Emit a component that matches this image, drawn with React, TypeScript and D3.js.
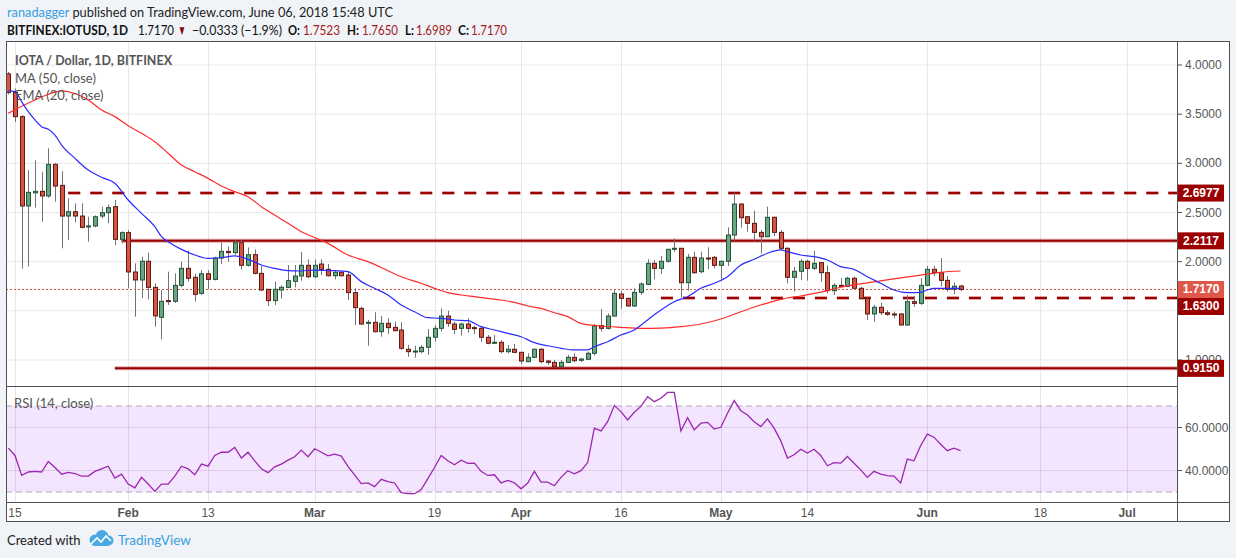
import React from 'react';
import * as d3 from 'd3';

// IOTUSD daily candles, Jan 14 - Jun 6 2018
const firstDay = '2018-01-14';
const lastDay = '2018-06-06';

const opens = [
  3.91, 3.72, 3.475, 2.566, 2.70, 2.715, 2.668, 2.99, 2.776, 2.464,
  2.508, 2.464, 2.356, 2.363, 2.464, 2.498, 2.559, 2.227, 2.295, 1.895,
  1.814, 2.004, 1.739, 1.434, 1.604, 1.597, 1.759, 1.932, 1.841, 1.678,
  1.877, 1.82, 2.037, 2.105, 2.092, 2.193, 1.963, 2.071, 1.881, 1.719,
  1.604, 1.712, 1.739, 1.80, 1.854, 1.963, 1.847, 1.976, 1.922, 1.857,
  1.892, 1.864, 1.685, 1.525, 1.373, 1.383, 1.288, 1.373, 1.332, 1.305,
  1.109, 1.085, 1.085, 1.129, 1.231, 1.322, 1.447, 1.366, 1.322, 1.366,
  1.329, 1.322, 1.231, 1.173, 1.18, 1.085, 1.109, 1.078, 0.983, 1.027,
  1.109, 0.99, 0.976, 0.932, 0.976, 1.027, 0.997, 1.007, 1.068, 1.349,
  1.322, 1.447, 1.671, 1.627, 1.549, 1.688, 1.769, 1.983, 1.932, 2.004,
  2.126, 2.136, 1.786, 2.044, 1.898, 2.037, 2.044, 1.963, 2.004, 2.271,
  2.586, 2.457, 2.39, 2.298, 2.254, 2.451, 2.298, 2.136, 1.841, 1.902,
  2.004, 1.932, 1.99, 1.888, 1.705, 1.759, 1.749, 1.831, 1.729, 1.627,
  1.468, 1.536, 1.481, 1.468, 1.468, 1.356, 1.593, 1.576, 1.759, 1.922,
  1.888, 1.81, 1.719, 1.7523
];
const highs = [
  3.93, 3.76, 3.49, 2.93, 3.03, 2.915, 3.153, 3.0, 2.92, 2.644,
  2.593, 2.593, 2.457, 2.47, 2.559, 2.58, 2.627, 2.31, 2.322, 1.983,
  2.05, 2.092, 1.78, 1.712, 1.898, 1.88, 2.0, 2.112, 1.877, 1.915,
  1.915, 2.05, 2.193, 2.152, 2.22, 2.22, 2.145, 2.125, 1.956, 1.722,
  1.797, 1.76, 1.966, 1.966, 2.098, 2.024, 2.024, 2.024, 1.976, 1.915,
  1.90, 1.898, 1.729, 1.542, 1.407, 1.485, 1.447, 1.424, 1.39, 1.383,
  1.153, 1.145, 1.153, 1.315, 1.356, 1.525, 1.501, 1.39, 1.38, 1.424,
  1.35, 1.339, 1.254, 1.254, 1.203, 1.153, 1.163, 1.085, 1.068, 1.115,
  1.12, 1.0, 1.0, 1.0, 1.051, 1.068, 1.02, 1.085, 1.366, 1.519,
  1.474, 1.712, 1.705, 1.633, 1.729, 1.79, 2.024, 2.017, 2.058, 2.126,
  2.238, 2.14, 2.078, 2.102, 2.102, 2.146, 2.058, 2.01, 2.349, 2.701,
  2.593, 2.46, 2.519, 2.322, 2.559, 2.46, 2.322, 2.146, 1.949, 2.024,
  2.017, 2.112, 1.99, 1.963, 1.78, 1.831, 1.847, 1.847, 1.746, 1.644,
  1.56, 1.583, 1.508, 1.491, 1.475, 1.661, 1.651, 1.831, 1.956, 1.956,
  2.034, 1.854, 1.79, 1.765
];
const lows = [
  3.70, 3.42, 1.93, 1.95, 2.55, 2.406, 2.65, 2.61, 2.136, 2.22,
  2.40, 2.34, 2.203, 2.35, 2.44, 2.39, 2.169, 2.186, 1.729, 1.44,
  1.627, 1.617, 1.339, 1.21, 1.56, 1.58, 1.74, 1.80, 1.594, 1.66,
  1.719, 1.81, 1.976, 2.0, 2.07, 1.92, 1.95, 1.87, 1.70, 1.549,
  1.559, 1.624, 1.73, 1.739, 1.807, 1.83, 1.83, 1.864, 1.85, 1.82,
  1.85, 1.61, 1.356, 1.356, 1.145, 1.28, 1.237, 1.264, 1.29, 1.102,
  1.033, 1.023, 1.068, 1.051, 1.186, 1.29, 1.339, 1.264, 1.247, 1.278,
  1.264, 1.186, 1.16, 1.165, 1.068, 1.068, 1.07, 0.956, 0.98, 1.02,
  0.966, 0.95, 0.925, 0.925, 0.97, 0.976, 0.98, 1.0, 1.044, 1.29,
  1.31, 1.44, 1.519, 1.542, 1.54, 1.661, 1.76, 1.82, 1.875, 1.99,
  2.1, 1.638, 1.705, 1.875, 1.88, 1.925, 1.932, 1.82, 1.956, 2.213,
  2.346, 2.305, 2.213, 2.085, 2.25, 2.261, 2.12, 1.78, 1.695, 1.813,
  1.807, 1.915, 1.797, 1.678, 1.661, 1.74, 1.74, 1.72, 1.62, 1.407,
  1.39, 1.458, 1.45, 1.424, 1.35, 1.346, 1.54, 1.56, 1.75, 1.854,
  1.746, 1.695, 1.671, 1.6989
];
const closes = [
  3.72, 3.475, 2.566, 2.705, 2.715, 2.668, 2.99, 2.769, 2.464, 2.508,
  2.464, 2.349, 2.363, 2.457, 2.498, 2.549, 2.227, 2.295, 1.895, 1.814,
  2.004, 1.739, 1.448, 1.597, 1.597, 1.759, 1.932, 1.831, 1.668, 1.877,
  1.82, 2.037, 2.105, 2.092, 2.193, 1.963, 2.071, 1.881, 1.712, 1.604,
  1.719, 1.739, 1.807, 1.854, 1.963, 1.847, 1.963, 1.922, 1.857, 1.892,
  1.857, 1.685, 1.532, 1.366, 1.383, 1.288, 1.373, 1.329, 1.298, 1.119,
  1.085, 1.091, 1.129, 1.231, 1.322, 1.447, 1.373, 1.312, 1.366, 1.322,
  1.322, 1.231, 1.17, 1.18, 1.085, 1.109, 1.078, 0.99, 1.027, 1.109,
  0.983, 0.976, 0.932, 0.976, 1.027, 0.993, 1.01, 1.068, 1.346, 1.322,
  1.447, 1.678, 1.627, 1.549, 1.688, 1.773, 1.983, 1.932, 2.004, 2.126,
  2.136, 1.786, 2.044, 1.888, 2.037, 2.031, 1.963, 2.004, 2.271, 2.586,
  2.447, 2.39, 2.298, 2.254, 2.451, 2.298, 2.136, 1.841, 1.902, 2.004,
  1.932, 1.983, 1.888, 1.705, 1.759, 1.749, 1.831, 1.729, 1.627, 1.468,
  1.536, 1.481, 1.464, 1.461, 1.356, 1.593, 1.576, 1.759, 1.922, 1.888,
  1.81, 1.719, 1.7503, 1.717
];

// RSI (14, close), one value per candle
const rsiValues = [
  50.4, 47.0, 37.7, 39.3, 39.6, 39.3, 44.2, 41.4, 38.3, 39.1,
  38.6, 37.4, 37.4, 39.6, 40.8, 42.0, 36.5, 38.3, 33.7, 31.9,
  36.8, 33.7, 30.3, 33.7, 33.7, 37.4, 42.0, 40.8, 38.0, 43.0,
  42.0, 47.0, 48.5, 48.5, 50.7, 45.8, 48.5, 44.5, 40.8, 39.0,
  41.7, 43.0, 44.8, 46.4, 49.5, 46.4, 50.1, 48.5, 46.8, 47.6,
  46.7, 41.9, 38.0, 33.9, 34.2, 32.5, 35.9, 34.8, 34.2, 29.7,
  29.2, 29.2, 31.1, 36.2, 41.4, 47.0, 44.5, 42.7, 44.8, 43.3,
  43.4, 39.6, 37.7, 38.0, 34.2, 35.4, 34.3, 31.5, 34.2, 39.6,
  34.6, 34.6, 32.9, 36.8, 39.9, 38.5, 39.9, 43.7, 59.7, 58.4,
  62.7, 70.2, 67.4, 63.5, 67.1, 69.8, 74.3, 72.0, 73.6, 76.3,
  76.3, 58.4, 64.6, 58.9, 62.0, 62.4, 59.3, 60.1, 66.6, 72.5,
  67.8, 65.8, 62.7, 60.4, 64.0, 59.7, 53.8, 45.8, 47.3, 49.9,
  48.1, 49.9, 47.0, 42.2, 43.7, 43.4, 46.5, 43.4, 40.3, 36.8,
  39.6, 38.3, 37.6, 37.4, 34.2, 45.3, 44.5, 51.5, 56.9, 55.5,
  52.2, 49.2, 50.4, 49.2
];

// MA (50, close) read at sample dates
const ma50Points: [string, number][] = [
  ['2018-01-14', 3.51], ['2018-01-16', 3.58], ['2018-01-18', 3.644], ['2018-01-20', 3.702],
  ['2018-01-22', 3.736], ['2018-01-24', 3.71], ['2018-01-26', 3.644], ['2018-01-28', 3.542],
  ['2018-01-30', 3.475], ['2018-02-01', 3.383], ['2018-02-03', 3.305], ['2018-02-05', 3.22],
  ['2018-02-07', 3.102], ['2018-02-09', 2.983], ['2018-02-11', 2.915], ['2018-02-13', 2.847],
  ['2018-02-15', 2.769], ['2018-02-17', 2.712], ['2018-02-19', 2.661], ['2018-02-21', 2.559],
  ['2018-02-23', 2.474], ['2018-02-25', 2.39], ['2018-02-27', 2.305], ['2018-03-01', 2.245],
  ['2018-03-03', 2.186], ['2018-03-06', 2.068], ['2018-03-09', 2.0], ['2018-03-12', 1.908],
  ['2018-03-14', 1.847], ['2018-03-17', 1.78], ['2018-03-19', 1.729], ['2018-03-21', 1.685],
  ['2018-03-23', 1.661], ['2018-03-25', 1.644], ['2018-03-27', 1.627], ['2018-03-29', 1.61],
  ['2018-03-31', 1.586], ['2018-04-02', 1.549], ['2018-04-04', 1.525], ['2018-04-06', 1.481],
  ['2018-04-08', 1.441], ['2018-04-10', 1.373], ['2018-04-13', 1.346], ['2018-04-16', 1.332],
  ['2018-04-19', 1.322], ['2018-04-22', 1.325], ['2018-04-25', 1.339], ['2018-04-28', 1.366],
  ['2018-05-01', 1.417], ['2018-05-04', 1.491], ['2018-05-07', 1.559], ['2018-05-10', 1.617],
  ['2018-05-13', 1.651], ['2018-05-16', 1.69], ['2018-05-19', 1.74], ['2018-05-22', 1.775],
  ['2018-05-25', 1.805], ['2018-05-28', 1.835], ['2018-05-31', 1.864], ['2018-06-03', 1.892],
  ['2018-06-06', 1.905]
];

// EMA (20, close) read at sample dates
const ema20Points: [string, number][] = [
  ['2018-01-14', 3.739], ['2018-01-15', 3.729], ['2018-01-16', 3.627], ['2018-01-17', 3.525],
  ['2018-01-18', 3.441], ['2018-01-19', 3.373], ['2018-01-20', 3.346], ['2018-01-21', 3.288],
  ['2018-01-22', 3.186], ['2018-01-24', 3.051], ['2018-01-26', 2.932], ['2018-01-28', 2.858],
  ['2018-01-30', 2.797], ['2018-02-01', 2.627], ['2018-02-03', 2.491], ['2018-02-05', 2.356],
  ['2018-02-06', 2.254], ['2018-02-07', 2.203], ['2018-02-09', 2.125], ['2018-02-11', 2.068],
  ['2018-02-13', 2.034], ['2018-02-15', 2.04], ['2018-02-17', 2.058], ['2018-02-19', 2.024],
  ['2018-02-21', 1.966], ['2018-02-23', 1.932], ['2018-02-25', 1.908], ['2018-02-27', 1.905],
  ['2018-03-01', 1.915], ['2018-03-04', 1.908], ['2018-03-06', 1.898], ['2018-03-08', 1.797],
  ['2018-03-10', 1.729], ['2018-03-12', 1.661], ['2018-03-14', 1.559], ['2018-03-16', 1.491],
  ['2018-03-18', 1.43], ['2018-03-20', 1.424], ['2018-03-22', 1.407], ['2018-03-24', 1.40],
  ['2018-03-26', 1.339], ['2018-03-28', 1.305], ['2018-03-30', 1.271], ['2018-04-01', 1.237],
  ['2018-04-03', 1.176], ['2018-04-05', 1.145], ['2018-04-07', 1.119], ['2018-04-09', 1.102],
  ['2018-04-11', 1.102], ['2018-04-12', 1.135], ['2018-04-14', 1.186], ['2018-04-16', 1.254],
  ['2018-04-18', 1.305], ['2018-04-20', 1.407], ['2018-04-22', 1.508], ['2018-04-24', 1.593],
  ['2018-04-26', 1.644], ['2018-04-28', 1.729], ['2018-04-30', 1.78], ['2018-05-02', 1.847],
  ['2018-05-04', 1.966], ['2018-05-06', 2.024], ['2018-05-08', 2.085], ['2018-05-10', 2.119],
  ['2018-05-11', 2.102], ['2018-05-13', 2.068], ['2018-05-15', 2.051], ['2018-05-17', 2.017],
  ['2018-05-19', 1.949], ['2018-05-21', 1.922], ['2018-05-23', 1.847], ['2018-05-25', 1.78],
  ['2018-05-27', 1.712], ['2018-05-29', 1.685], ['2018-05-31', 1.688], ['2018-06-01', 1.712],
  ['2018-06-02', 1.729], ['2018-06-04', 1.729], ['2018-06-06', 1.729]
];

// horizontal support / resistance levels drawn by the author
const levelValues = [2.6977, 2.2117, 1.63, 0.915];
const levelStarts = ['2018-01-23', '2018-01-31', '2018-04-22', '2018-01-30'];
const levelDashed = [true, false, true, false];

const priceTicks = [1, 1.5, 2, 2.5, 3, 3.5, 4];
const rsiTicks = [40, 60];
const rsiBands = [70, 30];
const dateTicks = [
  '2018-01-15', '2018-02-01', '2018-02-13', '2018-03-01', '2018-03-19', '2018-04-01',
  '2018-04-16', '2018-05-01', '2018-05-14', '2018-06-01', '2018-06-18', '2018-07-01'
];

// symbol status line: [text, x, width, weight, colour]
const statusParts: [string, number, number, string, string][] = [
  ['BITFINEX:IOTUSD, 1D', 7, 121, 'bold', '#111'],
  ['1.7170', 138, 36, 'normal', '#111'],
  ['▼', 178, 8, 'normal', '#8b0000'],
  ['−0.0333 (−1.9%)', 192, 90, 'normal', '#111'],
  ['O:', 288, 12, 'bold', '#111'],
  ['1.7523', 303, 37, 'normal', '#a31b1b'],
  ['H:', 347, 12, 'bold', '#111'],
  ['1.7650', 362, 36, 'normal', '#a31b1b'],
  ['L:', 405, 9, 'bold', '#111'],
  ['1.6989', 416, 36, 'normal', '#a31b1b'],
  ['C:', 458, 11, 'bold', '#111'],
  ['1.7170', 471, 36, 'normal', '#a31b1b']
];

const parseDay = d3.timeParse('%Y-%m-%d');
const parseTime = d3.timeParse('%Y-%m-%d %H:%M');

const W = 1236;
const H = 558;
const left = 6;
const plotRight = 1177;
const frameRight = 1230;
const mainTop = 41;
const mainBottom = 386;
const rsiBottom = 502;
const frameBottom = 522;

const axisFont = '"Liberation Sans", Arial, sans-serif';
const uiFont = 'Lato, "Open Sans", sans-serif';

const upFill = '#6ba583';
const upStroke = '#225437';
const downFill = '#d75442';
const downStroke = '#5b1a13';
const levelColor = '#9b0000';

export default function App() {
  const days = d3.timeDay.range(parseDay(firstDay)!, d3.timeDay.offset(parseDay(lastDay)!, 1));
  const x = d3
    .scaleTime()
    .domain([parseTime('2018-01-13 15:36')!, parseTime('2018-07-08 12:00')!])
    .range([left, plotRight]);
  const y = d3.scaleLinear().domain([1, 4]).range([360, 65]);
  const yRsi = d3.scaleLinear().domain([30, 70]).range([492, 406]);

  const dayPx = x(days[1]) - x(days[0]);
  const bodyW = dayPx * 0.6;

  const lineFor = d3
    .line<[string, number]>()
    .x(d => x(parseDay(d[0])!))
    .y(d => y(d[1]))
    .curve(d3.curveMonotoneX);

  const rsiLine = d3
    .line<number>()
    .x((d, i) => x(days[i]))
    .y(d => yRsi(d));

  const lastClose = closes[closes.length - 1];

  // axis labels for the levels + last price, pushed apart when they collide
  const boxH = 17;
  const tags = [
    ...levelValues.map(v => ({ value: v, color: levelColor })),
    { value: lastClose, color: '#e0584a' }
  ]
    .map(t => ({ ...t, cy: y(t.value) }))
    .sort((a, b) => a.cy - b.cy);
  for (let i = 1; i < tags.length; i++) {
    if (tags[i].cy < tags[i - 1].cy + boxH) tags[i].cy = tags[i - 1].cy + boxH;
  }

  const fmtDay = d3.timeFormat('%-d');
  const fmtMonth = d3.timeFormat('%b');

  return (
    <svg
      width={W}
      height={H}
      style={{ position: 'absolute', left: 0, top: 0, display: 'block' }}
    >
      <defs>
        <clipPath id="mainClip">
          <rect x={left} y={mainTop} width={plotRight - left} height={mainBottom - mainTop} />
        </clipPath>
        <clipPath id="rsiClip">
          <rect x={left} y={mainBottom} width={plotRight - left} height={rsiBottom - mainBottom} />
        </clipPath>
      </defs>

      <rect x={0} y={0} width={W} height={H} fill="#f0f3f7" />

      {/* header */}
      <text
        x={7}
        y={17}
        fontFamily={uiFont}
        fontSize={14}
        fill="#222"
        textLength={386}
        lengthAdjust="spacingAndGlyphs"
      >
        <tspan fill="#3a9fe0">ranadagger</tspan>
        <tspan> published on TradingView.com, June 06, 2018 15:48 UTC</tspan>
      </text>
      <g fontFamily={uiFont} fontSize={13.5}>
        {statusParts.map(([t, px, w, weight, color]) => (
          <text
            key={'st' + px}
            x={px}
            y={35}
            fill={color}
            fontWeight={weight}
            textLength={w}
            lengthAdjust="spacingAndGlyphs"
          >
            {t}
          </text>
        ))}
      </g>

      {/* chart frame */}
      <rect x={left} y={mainTop} width={frameRight - left} height={frameBottom - mainTop} fill="#fff" />

      {/* RSI band */}
      <rect
        x={left}
        y={yRsi(rsiBands[0])}
        width={plotRight - left}
        height={yRsi(rsiBands[1]) - yRsi(rsiBands[0])}
        fill="#f3e5fd"
      />

      {/* grid */}
      {priceTicks.map(t => (
        <line key={'gy' + t} x1={left} x2={plotRight} y1={y(t)} y2={y(t)} stroke="#e8e8e8" />
      ))}
      {rsiTicks.map(t => (
        <line key={'gr' + t} x1={left} x2={plotRight} y1={yRsi(t)} y2={yRsi(t)} stroke="#ddcbe8" />
      ))}
      {dateTicks.map(s => {
        const xx = Math.round(x(parseDay(s)!)) + 0.5;
        return (
          <g key={'gx' + s}>
            <line x1={xx} x2={xx} y1={mainTop} y2={mainBottom} stroke="#e8e8e8" />
            <line x1={xx} x2={xx} y1={mainBottom} y2={rsiBottom} stroke="rgba(120,80,150,0.16)" />
          </g>
        );
      })}
      {rsiBands.map(b => (
        <line
          key={'band' + b}
          x1={left}
          x2={plotRight}
          y1={yRsi(b)}
          y2={yRsi(b)}
          stroke="#b4a6bc"
          strokeDasharray="6,4"
        />
      ))}

      {/* main pane */}
      <g clipPath="url(#mainClip)">
        {levelValues.map((v, i) => {
          const yy = y(v);
          const x1 = x(parseDay(levelStarts[i])!);
          return (
            <g key={'lvl' + v}>
              <line
                x1={x1}
                x2={plotRight}
                y1={yy}
                y2={yy}
                stroke="rgba(170,0,0,0.35)"
                strokeWidth={4}
                strokeDasharray={levelDashed[i] ? '12,10' : undefined}
              />
              <line
                x1={x1}
                x2={plotRight}
                y1={yy}
                y2={yy}
                stroke={levelColor}
                strokeWidth={2}
                strokeDasharray={levelDashed[i] ? '12,10' : undefined}
              />
            </g>
          );
        })}

        <line
          x1={left}
          x2={plotRight}
          y1={y(lastClose)}
          y2={y(lastClose)}
          stroke="#d75442"
          strokeDasharray="2,2"
        />

        {days.map((d, i) => {
          const cx = Math.round(x(d)) + 0.5;
          const o = opens[i];
          const c = closes[i];
          const up = c >= o;
          const top = y(Math.max(o, c));
          const bot = y(Math.min(o, c));
          return (
            <g key={'c' + i}>
              <line x1={cx} x2={cx} y1={y(highs[i])} y2={y(lows[i])} stroke="#737375" />
              <rect
                x={cx - bodyW / 2}
                y={top}
                width={bodyW}
                height={Math.max(1, bot - top)}
                fill={up ? upFill : downFill}
                stroke={up ? upStroke : downStroke}
                strokeWidth={1}
              />
            </g>
          );
        })}

        <path d={lineFor(ma50Points) || ''} fill="none" stroke="#ff2b2b" strokeWidth={1.2} />
        <path d={lineFor(ema20Points) || ''} fill="none" stroke="#2b2bff" strokeWidth={1.2} />
      </g>

      {/* RSI pane */}
      <g clipPath="url(#rsiClip)">
        <path d={rsiLine(rsiValues) || ''} fill="none" stroke="#9c27b0" strokeWidth={1.3} />
      </g>

      {/* legends */}
      <g fontFamily={uiFont} fontSize={13} fill="#555">
        <text x={15} y={65} fontWeight="bold" textLength={157} lengthAdjust="spacingAndGlyphs">
          IOTA / Dollar, 1D, BITFINEX
        </text>
        <text x={15} y={83}>MA (50, close)</text>
        <text x={15} y={100}>EMA (20, close)</text>
        <text x={14} y={408}>RSI (14, close)</text>
      </g>

      {/* frame lines */}
      <rect
        x={left + 0.5}
        y={mainTop + 0.5}
        width={frameRight - left - 1}
        height={frameBottom - mainTop - 1}
        fill="none"
        stroke="#505050"
      />
      <line x1={plotRight + 0.5} x2={plotRight + 0.5} y1={mainTop} y2={frameBottom} stroke="#505050" />
      <line x1={left} x2={plotRight} y1={mainBottom + 0.5} y2={mainBottom + 0.5} stroke="#505050" />
      <line x1={left} x2={frameRight} y1={rsiBottom + 0.5} y2={rsiBottom + 0.5} stroke="#505050" />

      {/* price axis */}
      <g fontFamily={axisFont} fontSize={12} fill="#555">
        {priceTicks.map(t => (
          <g key={'py' + t}>
            <line x1={plotRight} x2={plotRight + 5} y1={y(t)} y2={y(t)} stroke="#505050" />
            <text x={plotRight + 8} y={y(t)} dominantBaseline="central">
              {t.toFixed(4)}
            </text>
          </g>
        ))}
        {rsiTicks.map(t => (
          <g key={'ry' + t}>
            <line x1={plotRight} x2={plotRight + 5} y1={yRsi(t)} y2={yRsi(t)} stroke="#505050" />
            <text x={plotRight + 8} y={yRsi(t)} dominantBaseline="central">
              {t.toFixed(4)}
            </text>
          </g>
        ))}
      </g>

      {/* value tags (drawn over the axis labels, as TradingView does) */}
      {tags.map(t => (
        <g key={'tag' + t.value}>
          <rect x={plotRight + 1} y={t.cy - boxH / 2} width={46} height={boxH} fill={t.color} />
          <text
            x={plotRight + 24}
            y={t.cy}
            textAnchor="middle"
            dominantBaseline="central"
            fontFamily={axisFont}
            fontSize={12}
            fontWeight="bold"
            fill="#fff"
          >
            {t.value.toFixed(4)}
          </text>
        </g>
      ))}

      {/* time axis */}
      <g fontFamily={axisFont} fontSize={12} fill="#555" textAnchor="middle">
        {dateTicks.map(s => {
          const d = parseDay(s)!;
          const isMonth = d.getDate() === 1;
          return (
            <text
              key={'tx' + s}
              x={x(d)}
              y={513}
              dominantBaseline="central"
              fontWeight={isMonth ? 'bold' : 'normal'}
            >
              {isMonth ? fmtMonth(d) : fmtDay(d)}
            </text>
          );
        })}
      </g>

      {/* footer */}
      <text x={7} y={545} fontFamily={uiFont} fontSize={13} fill="#222">
        Created with
      </text>
      <g fill="#4aa9e2">
        <circle cx={95} cy={540} r={5.5} />
        <circle cx={102} cy={536.5} r={6.5} />
        <circle cx={108.5} cy={540.5} r={5} />
        <rect x={92} y={540} width={18} height={6} rx={3} />
      </g>
      <polyline
        points="91,544 97,538 101,542 106,536 111,541"
        fill="none"
        stroke="#fff"
        strokeWidth={1.6}
      />
      <text x={118} y={545} fontFamily={uiFont} fontSize={13.5} fill="#3a9fe0">
        TradingView
      </text>
    </svg>
  );
}
